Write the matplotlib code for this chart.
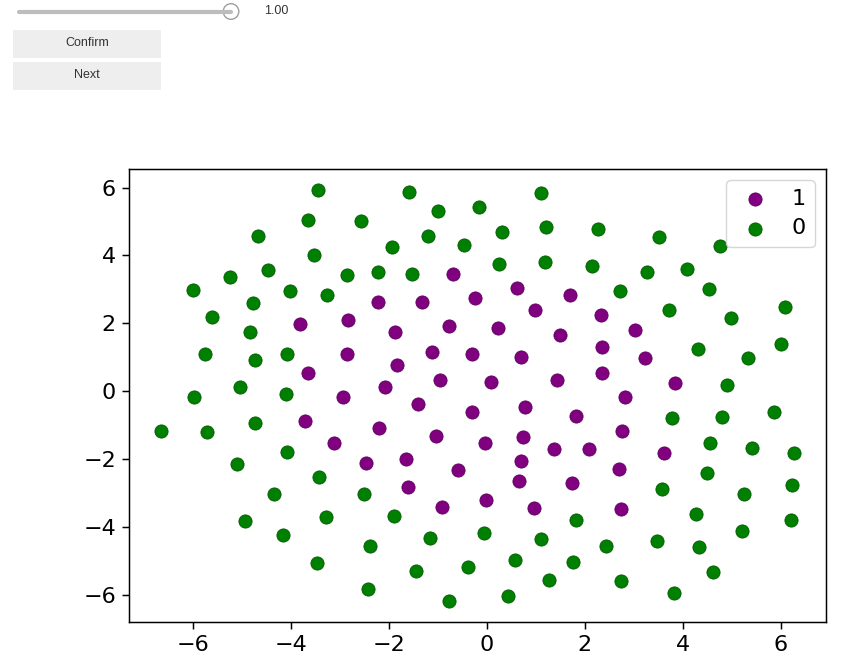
import matplotlib.pyplot as plt
from matplotlib.patches import Rectangle, Circle

# pontos da classe 1 (roxo)
x1 = [-0.70, -2.23, -1.33, -0.25, -3.82, -2.84, -1.88, -0.78, -2.86, -1.11,
      -0.31, -3.66, -1.84, -2.07, -0.95, -2.94, -1.41, 0.61, 1.70, 0.98,
      2.34, 0.22, 1.50, 3.02, 2.36, 0.69, 3.24, 2.35, 0.08, 1.44,
      3.85, 2.83, -0.31, -3.72, -2.21, -1.04, -0.03, -3.13, -2.47, -1.64,
      -0.58, -1.60, -0.91, -0.01, 0.78, 1.83, 2.77, 0.73, 1.38, 2.08,
      3.61, 0.69, 0.65, 1.73, 2.69, 0.96, 2.75]
y1 = [3.44, 2.64, 2.62, 2.73, 1.97, 2.11, 1.73, 1.91, 1.08, 1.14,
      1.08, 0.52, 0.78, 0.11, 0.32, -0.17, -0.39, 3.03, 2.83, 2.38,
      2.23, 1.87, 1.64, 1.81, 1.31, 1.02, 0.99, 0.54, 0.28, 0.34,
      0.25, -0.16, -0.61, -0.87, -1.08, -1.31, -1.52, -1.52, -2.11, -1.99,
      -2.32, -2.82, -3.42, -3.21, -0.46, -0.73, -1.19, -1.35, -1.72, -1.70,
      -1.81, -2.06, -2.65, -2.71, -2.31, -3.44, -3.47]

# pontos da classe 0 (verde)
x0 = [-3.45, -1.58, -1.00, -0.15, -3.66, -2.56, -4.68, -1.21, -1.93, -0.46,
      -3.53, -4.47, -5.25, -2.86, -2.23, -1.52, -6.00, -4.02, -3.27, -4.78,
      -5.62, -4.84, -5.76, -4.74, -4.07, -5.03, -5.97, -4.11, 1.10, 0.32,
      1.20, 2.28, 3.51, 4.77, 0.24, 1.18, 2.14, 3.28, 4.08, 2.71,
      4.54, 3.73, 4.98, 6.08, 4.32, 5.34, 6.00, 4.91, -6.66, -5.72,
      -4.74, -4.09, -5.11, -3.42, -4.35, -2.51, -4.94, -3.29, -1.90, -4.17,
      -2.39, -1.17, -0.05, -3.47, -1.45, -0.39, -2.43, -0.78, 3.79, 4.81,
      5.87, 4.56, 5.42, 6.28, 4.49, 3.58, 5.26, 6.23, 4.28, 5.22,
      6.22, 1.83, 1.10, 2.44, 3.47, 4.34, 0.57, 1.77, 4.61, 1.28,
      2.73, 0.44, 3.83]
y0 = [5.94, 5.86, 5.30, 5.42, 5.04, 5.00, 4.56, 4.56, 4.24, 4.30,
      4.00, 3.56, 3.35, 3.42, 3.50, 3.44, 2.97, 2.94, 2.82, 2.59,
      2.17, 1.73, 1.08, 0.91, 1.10, 0.11, -0.17, -0.08, 5.83, 4.68,
      4.83, 4.77, 4.53, 4.27, 3.75, 3.82, 3.70, 3.50, 3.59, 2.94,
      3.00, 2.40, 2.15, 2.47, 1.25, 0.99, 1.40, 0.19, -1.17, -1.20,
      -0.93, -1.79, -2.14, -2.53, -3.03, -3.03, -3.83, -3.71, -3.68, -4.24,
      -4.57, -4.32, -4.18, -5.07, -5.31, -5.19, -5.84, -6.19, -0.79, -0.75,
      -0.61, -1.52, -1.67, -1.82, -2.41, -2.88, -3.03, -2.77, -3.62, -4.12,
      -3.80, -3.80, -4.36, -4.57, -4.42, -4.60, -4.98, -5.04, -5.34, -5.57,
      -5.60, -6.04, -5.96]

rotulos = ['1', '0']
valor_slider = 1.00
botoes = ['Confirm', 'Next']

fig = plt.figure(figsize=(8.53, 6.68), dpi=100)

# widgets em cima (slider + botoes), desenhados em coordenadas de pixel
ui = fig.add_axes([0, 0, 1, 1])
ui.set_xlim(0, 853)
ui.set_ylim(668, 0)
ui.axis('off')

fonte_ui = ['Liberation Sans', 'DejaVu Sans']
ui.plot([19, 231], [12, 12], color='#bdbdbd', linewidth=3, solid_capstyle='round')
ui.add_patch(Circle((231, 11.5), 7.8, facecolor='white', edgecolor='#9e9e9e', linewidth=1))
ui.text(264, 11, f'{valor_slider:.2f}', fontsize=9, family=fonte_ui,
        color='#333333', va='center', ha='left')

for i, nome in enumerate(botoes):
    y = 30 + i * 32
    ui.add_patch(Rectangle((13, y), 148, 27.5, facecolor='#eeeeee', edgecolor='none'))
    ui.text(87, y + 13.5, nome, fontsize=9, family=fonte_ui, color='#333333',
            ha='center', va='center')

# grafico de dispersao
ax = fig.add_axes([0.1512, 0.0693, 0.8172, 0.6777])
ax.scatter(x1, y1, s=90, color='purple', edgecolors='#5e005e', linewidths=0.6, label=rotulos[0])
ax.scatter(x0, y0, s=90, color='green', edgecolors='#005a00', linewidths=0.6, label=rotulos[1])

ax.tick_params(labelsize=16, length=4.7, width=1.07, pad=4.7)
for sp in ax.spines.values():
    sp.set_linewidth(1.07)
ax.legend(loc='upper right', fontsize=16, scatterpoints=1,
          handlelength=1.75, labelspacing=0.42)

plt.savefig('out.png', dpi=100)
